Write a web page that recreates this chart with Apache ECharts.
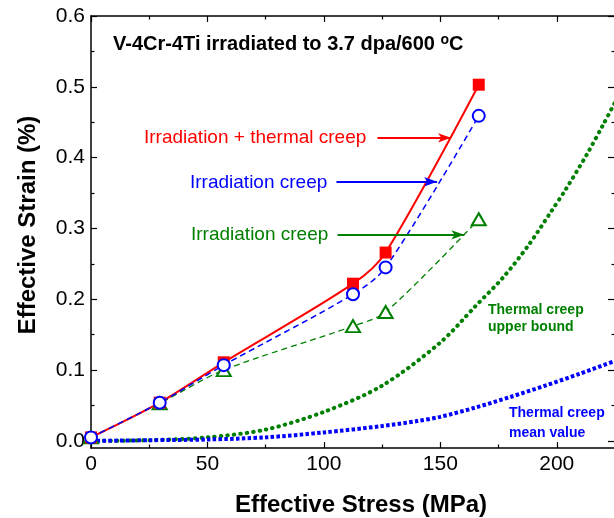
<!DOCTYPE html>
<html>
<head>
<meta charset="utf-8">
<script src="https://cdn.jsdelivr.net/npm/echarts@6.0.0/dist/echarts.min.js"></script>
<style>
html, body { margin: 0; padding: 0; background: #fff; }
#chart { width: 614px; height: 518px; }
</style>
</head>
<body>
<div id="chart"></div>
<script>
// measured points (MPa, %)
const stress = [0, 29.5, 57, 112.5, 126.5, 166.5];
const strainIrrThermal = [0.005, 0.054, 0.111, 0.222, 0.266, 0.503];
const strainIrrBlue = [0.005, 0.054, 0.107, 0.207, 0.245, 0.459];
const strainIrrGreen = [0.005, 0.053, 0.100, 0.162, 0.182, 0.313];

// thermal creep curves
const upperStress = [0, 25, 50, 75, 100, 125, 150, 165, 177, 188, 197, 204, 213, 220, 225];
const upperStrain = [0, 0.001, 0.005, 0.016, 0.041, 0.078, 0.139, 0.19, 0.231, 0.277, 0.321, 0.356, 0.405, 0.447, 0.478];
const meanStress = [0, 25, 50, 75, 100, 125, 140, 150, 165, 180, 195, 210, 225];
const meanStrain = [0, 0.001, 0.002, 0.005, 0.012, 0.021, 0.028, 0.034, 0.047, 0.062, 0.078, 0.095, 0.113];

// ticks
const xMajor = [0, 50, 100, 150, 200];
const xMinor = [25, 75, 125, 175];
const yMajor = [0, 0.1, 0.2, 0.3, 0.4, 0.5, 0.6];
const yMinor = [0.05, 0.15, 0.25, 0.35, 0.45, 0.55];

// arrows: [x0, x1, y]
const arrowRed = [123, 154.6, 0.428];
const arrowBlue = [105.4, 148.6, 0.366];
const arrowGreen = [105.9, 160.3, 0.291];

const RED = '#ff0000', BLUE = '#0000ff', GREEN = '#008000';
const FONT = '"Liberation Sans", Arial, sans-serif';

const zip = (xs, ys) => xs.map((x, i) => [x, ys[i]]);

const chart = echarts.init(document.getElementById('chart'));

function frameAxis(pos, ticks, len, line, extra) {
    return Object.assign({
        type: 'value',
        position: pos,
        axisLine: { show: line, onZero: false, lineStyle: { color: '#000', width: 1.5 } },
        axisTick: { show: true, inside: true, length: len, customValues: ticks, lineStyle: { color: '#000', width: 1.2 } },
        axisLabel: { show: false },
        splitLine: { show: false },
    }, extra);
}

function arrow(a, color) {
    return {
        silent: true,
        animation: false,
        symbol: ['none', 'arrow'],
        symbolSize: [7, 13],
        label: { show: false },
        lineStyle: { color: color, width: 2, type: 'solid' },
        emphasis: { disabled: true },
        data: [[{ coord: [a[0], a[2]] }, { coord: [a[1], a[2]] }]],
    };
}

const xRange = { min: 0, max: 225 };
const yRange = { min: -0.01, max: 0.6 };

const option = {
    animation: false,
    grid: { left: 91, right: -1, top: 16, bottom: 70, outerBoundsMode: 'none' },
    xAxis: [
        frameAxis('bottom', xMajor, 6, true, Object.assign({
            name: 'Effective Stress (MPa)',
            nameLocation: 'middle',
            nameGap: 45,
            nameTextStyle: { fontFamily: FONT, fontSize: 24, fontWeight: 'bold', color: '#000', padding: [0, 0, 0, 16] },
            axisLabel: { show: true, customValues: xMajor, margin: 6, fontFamily: FONT, fontSize: 21, color: '#000' },
        }, xRange)),
        frameAxis('bottom', xMinor, 3.5, false, xRange),
        frameAxis('top', xMajor, 6, true, xRange),
        frameAxis('top', xMinor, 3.5, false, xRange),
    ],
    yAxis: [
        frameAxis('left', yMajor, 6, true, Object.assign({
            name: 'Effective Strain (%)',
            nameLocation: 'middle',
            nameGap: 51,
            nameTextStyle: { fontFamily: FONT, fontSize: 24, fontWeight: 'bold', color: '#000', padding: [0, 0, 0, 14] },
            axisLabel: { show: true, customValues: yMajor, margin: 6, fontFamily: FONT, fontSize: 21, color: '#000',
                formatter: (v) => v.toFixed(1) },
        }, yRange)),
        frameAxis('left', yMinor, 3.5, false, yRange),
        frameAxis('right', yMajor, 7, true, yRange),
        frameAxis('right', yMinor, 3.5, false, yRange),
    ],
    series: [
        {
            name: 'Thermal creep upper bound',
            type: 'line',
            data: zip(upperStress, upperStrain),
            smooth: 0.3,
            showSymbol: false,
            lineStyle: { color: GREEN, width: 4, type: [0.5, 6], cap: 'round' },
        },
        {
            name: 'Thermal creep mean value',
            type: 'line',
            data: zip(meanStress, meanStrain),
            smooth: 0.3,
            showSymbol: false,
            lineStyle: { color: BLUE, width: 4, type: [3.5, 2.3] },
        },
        {
            name: 'Irradiation creep (green)',
            type: 'line',
            data: zip(stress, strainIrrGreen),
            smooth: 0.3,
            symbol: 'emptyTriangle',
            symbolSize: [14, 12],
            itemStyle: { color: GREEN, borderWidth: 1.3 },
            lineStyle: { color: GREEN, width: 1.3, type: [6, 4] },
            markLine: arrow(arrowGreen, GREEN),
        },
        {
            name: 'Irradiation + thermal creep',
            type: 'line',
            data: zip(stress, strainIrrThermal),
            smooth: 0.3,
            symbol: 'rect',
            symbolSize: 12,
            itemStyle: { color: RED },
            lineStyle: { color: RED, width: 2 },
            markLine: arrow(arrowRed, RED),
        },
        {
            name: 'Irradiation creep',
            type: 'line',
            data: zip(stress, strainIrrBlue),
            smooth: 0.3,
            symbol: 'emptyCircle',
            symbolSize: 12,
            itemStyle: { color: BLUE, borderWidth: 1.5 },
            lineStyle: { color: BLUE, width: 1.5, type: [6, 4] },
            markLine: arrow(arrowBlue, BLUE),
        },
    ],
    graphic: [
        {
            type: 'text', x: 113, y: 44,
            style: {
                text: '{a|V-4Cr-4Ti irradiated to 3.7 dpa/600 }{s|o}{a|C}',
                verticalAlign: 'middle',
                rich: {
                    a: { fontFamily: FONT, fontSize: 20, fontWeight: 'bold', fill: '#000', lineHeight: 22 },
                    s: { fontFamily: FONT, fontSize: 14, fontWeight: 'bold', fill: '#000', verticalAlign: 'top', lineHeight: 22 },
                },
            },
        },
        { type: 'text', x: 144, y: 138, style: { text: 'Irradiation + thermal creep', font: '19px ' + FONT, fill: RED, verticalAlign: 'middle' } },
        { type: 'text', x: 190, y: 183, style: { text: 'Irradiation creep', font: '19px ' + FONT, fill: BLUE, verticalAlign: 'middle' } },
        { type: 'text', x: 191, y: 235, style: { text: 'Irradiation creep', font: '19px ' + FONT, fill: GREEN, verticalAlign: 'middle' } },
        { type: 'text', x: 488, y: 310, style: { text: 'Thermal creep', font: 'bold 14px ' + FONT, fill: GREEN, verticalAlign: 'middle' } },
        { type: 'text', x: 488, y: 327, style: { text: 'upper bound', font: 'bold 14px ' + FONT, fill: GREEN, verticalAlign: 'middle' } },
        { type: 'text', x: 509, y: 413, style: { text: 'Thermal creep', font: 'bold 14px ' + FONT, fill: BLUE, verticalAlign: 'middle' } },
        { type: 'text', x: 509, y: 433, style: { text: 'mean value', font: 'bold 14px ' + FONT, fill: BLUE, verticalAlign: 'middle' } },
    ],
};

chart.setOption(option);
</script>
</body>
</html>
